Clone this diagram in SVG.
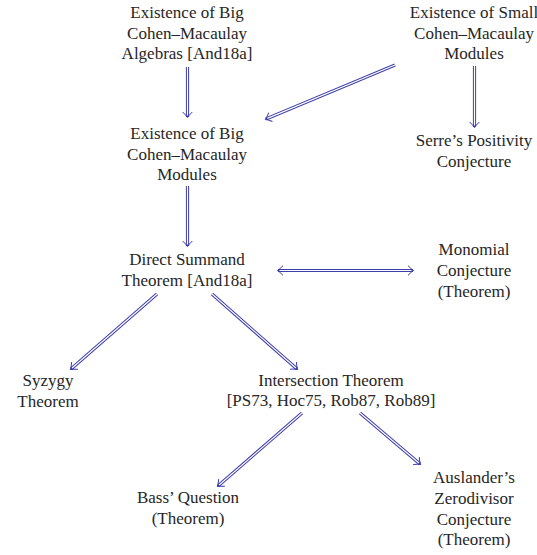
<svg xmlns="http://www.w3.org/2000/svg" width="537" height="555" viewBox="0 0 537 555">
<style>
text{font-family:"Liberation Serif","Times New Roman",serif;font-size:17px;fill:#262626;text-anchor:middle}
.o{fill:none;stroke:#3d3dab;stroke-width:3.2}
.i{fill:none;stroke:#ffffff;stroke-width:1.2}
</style>
<defs>
<marker id="h" markerUnits="userSpaceOnUse" viewBox="-7 -6 9 12" refX="0" refY="0" markerWidth="9" markerHeight="12" orient="auto-start-reverse" overflow="visible">
<path d="M -5 -4.8 Q -1.5 -1.2 0.6 0 Q -1.5 1.2 -5 4.8" fill="none" stroke="#3d3dab" stroke-width="1"/>
</marker>
</defs>
<rect width="537" height="555" fill="#ffffff"/>
<g id="connectors">
<path class="o" d="M187.5 67 L187.5 117" marker-end="url(#h)"/><path class="i" d="M187.5 67 L187.5 115.5"/>
<path class="o" d="M474.5 66 L474.5 127" marker-end="url(#h)"/><path class="i" d="M474.5 66 L474.5 125.5"/>
<path class="o" d="M395 65 L266 119" marker-end="url(#h)"/><path class="i" d="M395 65 L267.4 118.4"/>
<path class="o" d="M187.5 186 L187.5 246" marker-end="url(#h)"/><path class="i" d="M187.5 186 L187.5 244.5"/>
<path class="o" d="M278 270.5 L413 270.5" marker-start="url(#h)" marker-end="url(#h)"/><path class="i" d="M279.5 270.5 L411.5 270.5"/>
<path class="o" d="M157 294 L71 369" marker-end="url(#h)"/><path class="i" d="M157 294 L72.1 368"/>
<path class="o" d="M212 294 L297 369" marker-end="url(#h)"/><path class="i" d="M212 294 L295.9 368"/>
<path class="o" d="M302 413 L218 486" marker-end="url(#h)"/><path class="i" d="M302 413 L219.1 485"/>
<path class="o" d="M360 413 L420 464" marker-end="url(#h)"/><path class="i" d="M360 413 L418.9 463"/>
</g>
<g id="big-algebras"><text x="187" y="18">Existence of Big</text><text x="187" y="38.5">Cohen–Macaulay</text><text x="187" y="59">Algebras [And18a]</text></g>
<g id="small-modules"><text x="474" y="18">Existence of Small</text><text x="474" y="38.5">Cohen–Macaulay</text><text x="474" y="59">Modules</text></g>
<g id="big-modules"><text x="187" y="139">Existence of Big</text><text x="187" y="159.5">Cohen–Macaulay</text><text x="187" y="180">Modules</text></g>
<g id="serre"><text x="474" y="146">Serre’s Positivity</text><text x="474" y="166.5">Conjecture</text></g>
<g id="direct-summand"><text x="187" y="265">Direct Summand</text><text x="187" y="285.5">Theorem [And18a]</text></g>
<g id="monomial"><text x="474" y="255">Monomial</text><text x="474" y="275.5">Conjecture</text><text x="474" y="296.5">(Theorem)</text></g>
<g id="syzygy"><text x="48" y="386">Syzygy</text><text x="48" y="406.5">Theorem</text></g>
<g id="intersection"><text x="331" y="385.5">Intersection Theorem</text><text x="331" y="406">[PS73, Hoc75, Rob87, Rob89]</text></g>
<g id="bass"><text x="188" y="503">Bass’ Question</text><text x="188" y="523.5">(Theorem)</text></g>
<g id="auslander"><text x="474" y="483">Auslander’s</text><text x="474" y="503.8">Zerodivisor</text><text x="474" y="524.6">Conjecture</text><text x="474" y="545.4">(Theorem)</text></g>
</svg>
